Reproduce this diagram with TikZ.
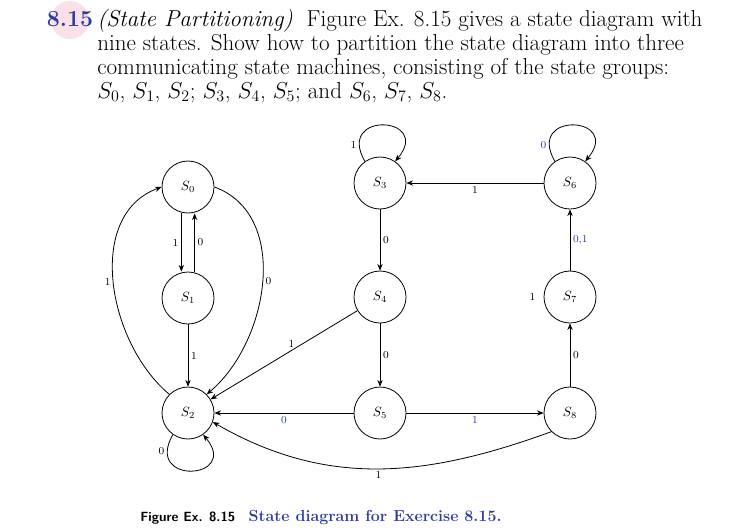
\documentclass[tikz,border=0pt]{standalone}
\usetikzlibrary{arrows.meta}
\definecolor{hb}{RGB}{45,60,160}
\definecolor{pk}{RGB}{250,225,232}
\begin{document}
\begin{tikzpicture}[x=0.75pt,y=-0.75pt,
 st/.style={circle,draw,semithick,minimum size=39pt,inner sep=0pt,font=\normalsize},
 ar/.style={draw,semithick,-{Stealth[length=5pt,width=4pt]}},
 lb/.style={font=\footnotesize,inner sep=2pt},
 bl/.style={lb,text=hb},
 tx/.style={anchor=base west,inner sep=0pt,font=\fontsize{17.3}{19}\selectfont}]
\useasboundingbox (0,0) rectangle (741,529);
\fill[pk] (70,20) circle (19);
\node[tx,text=hb,anchor=base] (num) at (70,26) {\textbf{8.15}};
\node[tx] (l1) at (97,26) {\textit{(State Partitioning)}\ \ Figure Ex. 8.15 gives a state diagram with};
\node[tx] (l2) at (97,50) {nine states. Show how to partition the state diagram into three};
\node[tx] (l3) at (97,74) {communicating state machines, consisting of the state groups:};
\node[tx] (l4) at (97,98) {$S_0$, $S_1$, $S_2$; $S_3$, $S_4$, $S_5$; and $S_6$, $S_7$, $S_8$.};
\node[st] (s0) at (188,187) {$S_0$};
\node[st] (s1) at (188,298) {$S_1$};
\node[st] (s2) at (188,413) {$S_2$};
\node[st] (s3) at (380,183) {$S_3$};
\node[st] (s4) at (380,297) {$S_4$};
\node[st] (s5) at (380,413) {$S_5$};
\node[st] (s6) at (570,183) {$S_6$};
\node[st] (s7) at (570,297) {$S_7$};
\node[st] (s8) at (570,413) {$S_8$};
\draw[ar] ([xshift=-5pt]s0.south) -- node[lb,left]{1} ([xshift=-5pt]s1.north);
\draw[ar] ([xshift=5pt]s1.north) -- node[lb,right]{0} ([xshift=5pt]s0.north|-s0.south);
\draw[ar] (s1) -- node[lb,right]{1} (s2);
\draw[ar] (s0.east) to[out=-20,in=40] node[lb,right,pos=0.5]{0} (s2.north east);
\draw[ar] (s2.north west) to[out=140,in=200] node[lb,left,pos=0.5]{1} (s0.west);
\draw[ar] (s2.-125) to[out=-120,in=-50,looseness=5] node[lb,left,pos=0.12]{0} (s2.-55);
\draw[ar] (s3.125) to[out=120,in=50,looseness=5] node[lb,left,pos=0.12]{1} (s3.55);
\draw[ar] (s6.125) to[out=120,in=50,looseness=5] node[bl,left,pos=0.12]{0} (s6.55);
\draw[ar] (s3) -- node[lb,right]{0} (s4);
\draw[ar] (s4) -- node[lb,right]{0} (s5);
\draw[ar] (s4) -- node[lb,above,pos=0.45]{1} (s2);
\draw[ar] (s5) -- node[bl,below]{0} (s2);
\draw[ar] (s5) -- node[bl,below]{1} (s8);
\draw[ar] (s6) -- node[lb,below]{1} (s3);
\draw[ar] (s7) -- node[bl,right]{0,1} (s6);
\draw[ar] (s8) -- node[lb,right]{0} (s7);
\node[lb,left] (l7) at ([xshift=-4pt]s7.west) {1};
\draw[ar] (s8.south west) to[out=-160,in=-30] node[lb,below]{1} (s2.-20);
\node[anchor=base west,inner sep=0pt] (cap) at (140,521) {{\sffamily\bfseries Figure Ex. 8.15}\ \ \ \textcolor{hb}{\large\bfseries State diagram for Exercise 8.15.}};
\end{tikzpicture}
\end{document}
